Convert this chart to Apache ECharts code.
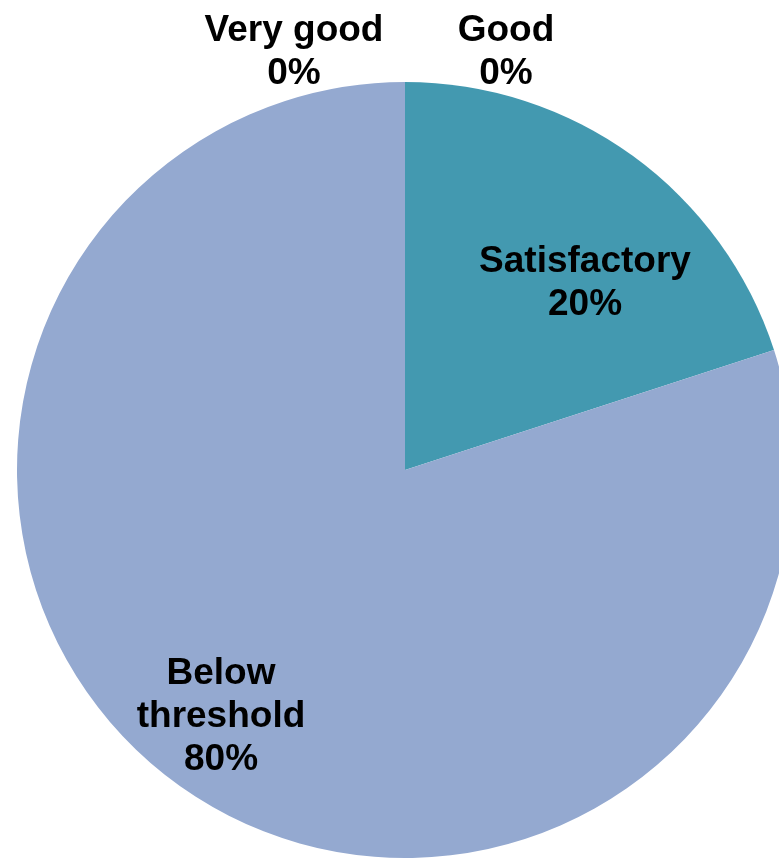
<!DOCTYPE html>
<html>
<head>
<meta charset="utf-8">
<script src="https://cdn.jsdelivr.net/npm/echarts@6/dist/echarts.min.js"></script>
<style>
html,body{margin:0;padding:0;background:#fff;}
#chart{width:779px;height:858px;}
</style>
</head>
<body>
<div id="chart"></div>
<script>
var categories = ['Very good', 'Good', 'Satisfactory', 'Below threshold'];
var labelNames = ['Very good', 'Good', 'Satisfactory', 'Below\nthreshold'];
var values = [0, 0, 20, 80];
var colors = ['#8FA6CC', '#3E93AC', '#4399B0', '#94A9D0'];
var labelPos = [[294, 52], [506, 52], [585, 283], [221, 717]];

var total = values.reduce(function (a, b) { return a + b; }, 0);
var chart = echarts.init(document.getElementById('chart'), null, {renderer: 'canvas'});
var data = categories.map(function (c, i) {
  return {name: c, value: values[i], itemStyle: {color: colors[i]}};
});
var labels = categories.map(function (c, i) {
  return {
    type: 'text',
    x: labelPos[i][0],
    y: labelPos[i][1],
    z: 100,
    style: {
      text: labelNames[i] + '\n' + Math.round(values[i] / total * 100) + '%',
      fontFamily: 'Liberation Sans, Arial, sans-serif',
      fontWeight: 'bold',
      fontSize: 37,
      lineHeight: 43,
      fill: '#000',
      align: 'center',
      verticalAlign: 'middle'
    }
  };
});
chart.setOption({
  animation: false,
  graphic: labels,
  series: [{
    type: 'pie',
    center: [405, 470],
    radius: 388,
    startAngle: 90,
    clockwise: true,
    data: data,
    label: {show: false},
    labelLine: {show: false},
    emphasis: {disabled: true}
  }]
});
</script>
</body>
</html>
